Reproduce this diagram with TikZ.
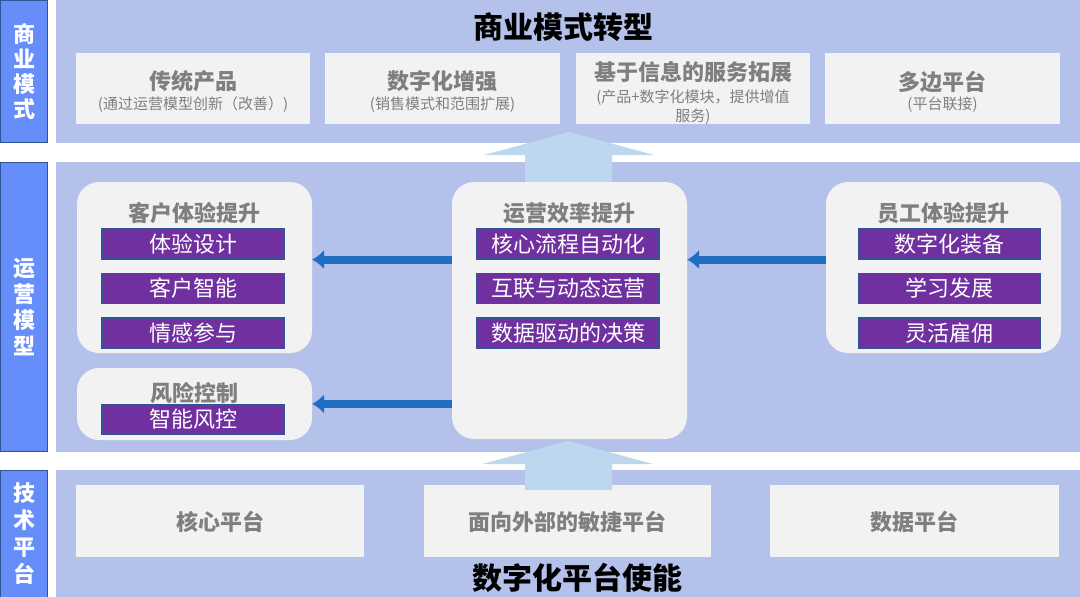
\documentclass[tikz,border=0pt]{standalone}
\usepackage{fontspec}
\setmainfont{Noto Sans CJK SC}
\usetikzlibrary{arrows.meta}
\definecolor{bandblue}{HTML}{B4C1EB}
\definecolor{sideblue}{HTML}{668EFA}
\definecolor{sideedge}{HTML}{2F5597}
\definecolor{boxgrey}{HTML}{F2F2F2}
\definecolor{textgrey}{HTML}{7F7F7F}
\definecolor{itempurple}{HTML}{7030A0}
\definecolor{itemedge}{HTML}{2F5597}
\definecolor{flowblue}{HTML}{1F6EC0}
\definecolor{liftblue}{HTML}{BDD7EE}

\begin{document}
\begin{tikzpicture}[
  x=1pt,
  y=-1pt,
  band/.style={fill=bandblue,draw=none},
  sidebar/.style={fill=sideblue,draw=sideedge,line width=1.2pt,text=white,inner sep=0pt,
    align=center,minimum width=47pt},
  flatbox/.style={fill=boxgrey,draw=none,inner sep=0pt,minimum height=71pt},
  roundbox/.style={fill=boxgrey,draw=none,rounded corners=22pt,inner sep=0pt,minimum width=235pt},
  headtext/.style={text=textgrey,font=\bfseries\fontsize{22}{24}\selectfont,inner sep=0pt},
  subtext/.style={text=textgrey,font=\fontsize{15}{19}\selectfont,inner sep=0pt,align=center},
  bigtitle/.style={text=black,font=\bfseries\fontsize{30}{32}\selectfont,inner sep=0pt},
  itembar/.style={fill=itempurple,draw=itemedge,line width=1.2pt,text=white,inner sep=0pt,
    minimum width=182pt,minimum height=30pt,font=\fontsize{22}{24}\selectfont},
  flow/.style={draw=flowblue,line width=8pt,-{Latex[length=12pt,width=20pt]}},
  lift/.style={fill=liftblue,draw=none}
]
  \useasboundingbox (0,0) rectangle (1080,597);

  % Three horizontal layers with their side labels.
  \path[band] (56,0) rectangle (1080,143);
  \path[band] (56,162) rectangle (1080,452);
  \path[band] (56,470) rectangle (1080,597);
  \node[sidebar,minimum height=142pt,font=\bfseries\fontsize{22}{25}\selectfont] (sideBiz) at (24,71.5) {商\\业\\模\\式};
  \node[sidebar,minimum height=289pt,font=\bfseries\fontsize{22}{26}\selectfont] (sideOps) at (24,307) {运\\营\\模\\型};
  \node[sidebar,minimum height=127pt,font=\bfseries\fontsize{22}{27}\selectfont] (sideTech) at (24,534) {技\\术\\平\\台};

  % Business model layer.
  \node[bigtitle] (bizTitle) at (563,27) {商业模式转型};
  \node[flatbox,minimum width=234pt] (trad) at (193,88.5) {};
  \node[flatbox,minimum width=235pt] (digi) at (442.5,88.5) {};
  \node[flatbox,minimum width=234pt] (info) at (693,88.5) {};
  \node[flatbox,minimum width=235pt] (multi) at (942.5,88.5) {};
  \node[headtext] (tradT) at (193,81) {传统产品};
  \node[subtext] (tradS) at (193,105) {(通过运营模型创新（改善）)};
  \node[headtext] (digiT) at (442.5,81) {数字化增强};
  \node[subtext] (digiS) at (442.5,105) {(销售模式和范围扩展)};
  \node[headtext] (infoT) at (693,72) {基于信息的服务拓展};
  \node[subtext] (infoS) at (693,107) {(产品+数字化模块，提供增值\\服务)};
  \node[headtext] (multiT) at (942.5,82) {多边平台};
  \node[subtext] (multiS) at (942.5,105) {(平台联接)};

  % Lift from the operating model up to the business model.
  \path[lift] (525,182) -- (525,155) -- (484,155) -- (569,132) -- (654,155)
    -- (612,155) -- (612,182) -- cycle;

  % Operating model layer.
  \node[roundbox,minimum height=171pt] (cust) at (194.5,267.5) {};
  \node[roundbox,minimum height=72pt] (risk) at (194.5,404) {};
  \node[roundbox,minimum height=257pt] (eff) at (569.5,310.5) {};
  \node[roundbox,minimum height=171pt] (emp) at (943.5,267.5) {};
  \node[headtext] (custT) at (194,213) {客户体验提升};
  \node[headtext] (riskT) at (194,393) {风险控制};
  \node[headtext] (effT) at (569,213) {运营效率提升};
  \node[headtext] (empT) at (943,213) {员工体验提升};

  \foreach \name/\x/\y/\txt in {custA/193/244/体验设计,custB/193/288.5/客户智能,custC/193/333/情感参与,
      riskA/193/419.5/智能风控,
      effA/568/244/核心流程自动化,effB/568/288.5/互联与动态运营,effC/568/333/数据驱动的决策,
      empA/949.5/244/数字化装备,empB/949.5/288.5/学习发展,empC/949.5/333/灵活雇佣} {
    \node[itembar] (\name) at (\x,\y) {\txt};
  }

  % Efficiency gains feed the customer, risk and employee sides.
  \draw[flow] (eff.west |- custA.south) -- (cust.east |- custA.south);
  \draw[flow] (eff.west |- riskA.north) -- (risk.east |- riskA.north);
  \draw[flow] (emp.west |- effA.south) -- (eff.east |- effA.south);

  % Technology platform layer.
  \node[flatbox,minimum width=288pt,minimum height=72pt] (core) at (220,521) {};
  \node[flatbox,minimum width=287pt,minimum height=72pt] (agile) at (567.5,521) {};
  \node[flatbox,minimum width=289pt,minimum height=72pt] (data) at (914.5,521) {};
  \node[headtext] (coreT) at (220,522) {核心平台};
  \node[headtext] (agileT) at (567.5,522) {面向外部的敏捷平台};
  \node[headtext] (dataT) at (914.5,522) {数据平台};
  \node[bigtitle] (platTitle) at (577,578) {数字化平台使能};

  % Lift from the platforms up to the operating model.
  \path[lift] (525,490) -- (525,464) -- (482,464) -- (568,441) -- (653,464)
    -- (612,464) -- (612,490) -- cycle;
\end{tikzpicture}
\end{document}
